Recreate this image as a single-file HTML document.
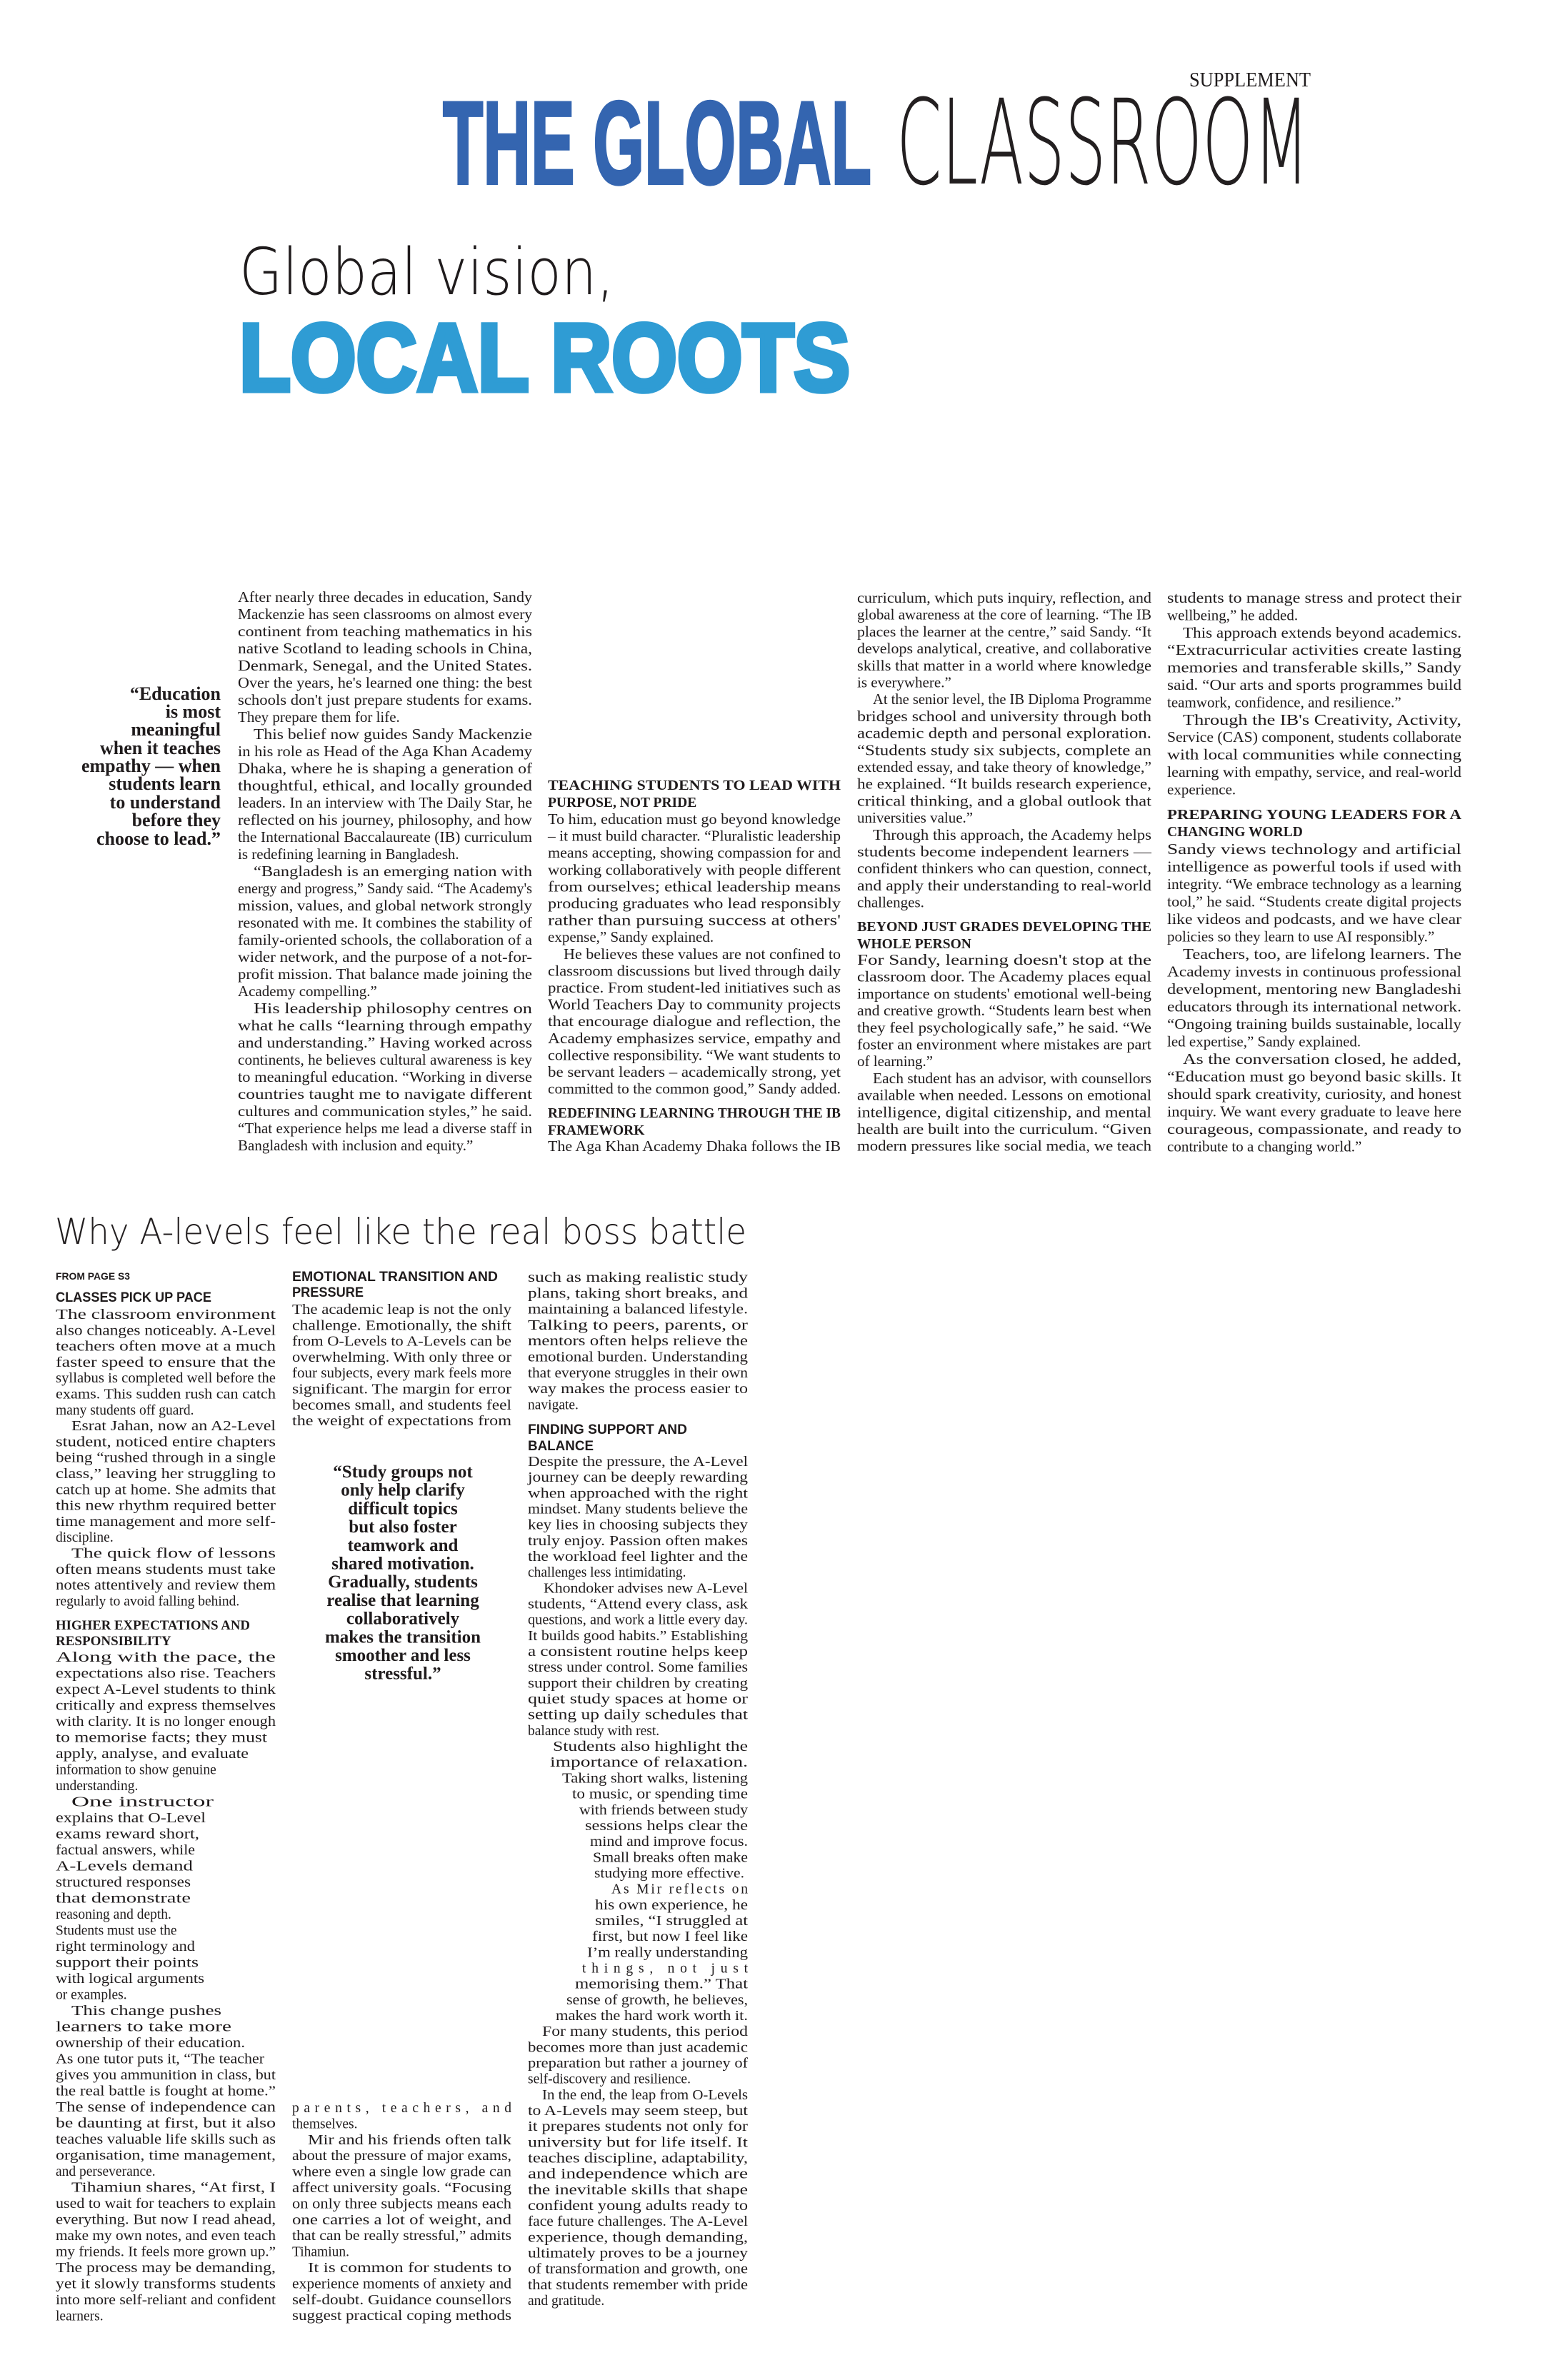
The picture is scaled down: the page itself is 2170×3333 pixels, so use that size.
<!DOCTYPE html>
<html><head><meta charset="utf-8">
<style>
html,body{margin:0;padding:0;background:#fff;}
svg{display:block;}
text{fill:#1f1b1c;font-family:"Liberation Serif",serif;}
.t{font-size:21px;}
.b{font-size:19.5px;}
.th{font-size:19.5px;font-weight:bold;}
.bh{font-size:19px;font-weight:bold;}
.bs{font-family:"Liberation Sans",sans-serif;font-size:19px;font-weight:bold;}
.q{font-size:26px;font-weight:bold;}
.q2{font-size:25px;font-weight:bold;}
</style></head>
<body>
<svg width="2170" height="3333" viewBox="0 0 2170 3333" xmlns="http://www.w3.org/2000/svg">
<rect width="2170" height="3333" fill="#fff"/>
<text x="1835" y="121" text-anchor="end" textLength="170" lengthAdjust="spacingAndGlyphs" style="font-size:28px;font-family:'Liberation Serif',serif">SUPPLEMENT</text>
<text x="620" y="257" textLength="600" lengthAdjust="spacingAndGlyphs" style="font-family:'Liberation Sans',sans-serif;font-weight:bold;font-size:165px;fill:#3465b0;stroke:#3465b0;stroke-width:4">THE GLOBAL</text>
<text x="1255" y="257" textLength="578" lengthAdjust="spacingAndGlyphs" style="font-family:'DejaVu Sans',sans-serif;font-weight:200;font-size:165px;fill:#231f20">CLASSROOM</text>
<text x="335" y="412" textLength="525" lengthAdjust="spacingAndGlyphs" style="font-family:'DejaVu Sans',sans-serif;font-weight:200;font-size:90px">Global vision,</text>
<text x="335" y="547" textLength="855" lengthAdjust="spacingAndGlyphs" style="font-family:'Liberation Sans',sans-serif;font-weight:bold;font-size:134px;fill:#2f9cd4;stroke:#2f9cd4;stroke-width:7">LOCAL ROOTS</text>

<g text-anchor="end">
<text x="309" y="980" class="q">“Education</text>
<text x="309" y="1005" class="q">is most</text>
<text x="309" y="1030" class="q">meaningful</text>
<text x="309" y="1056" class="q">when it teaches</text>
<text x="309" y="1081" class="q">empathy — when</text>
<text x="309" y="1106" class="q">students learn</text>
<text x="309" y="1132" class="q">to understand</text>
<text x="309" y="1157" class="q">before they</text>
<text x="309" y="1183" class="q">choose to lead.”</text>
</g>

<text class="t" x="333" y="843" lengthAdjust="spacingAndGlyphs" textLength="412">After nearly three decades in education, Sandy</text>
<text class="t" x="333" y="867" lengthAdjust="spacingAndGlyphs" textLength="412">Mackenzie has seen classrooms on almost every</text>
<text class="t" x="333" y="891" lengthAdjust="spacingAndGlyphs" textLength="412">continent from teaching mathematics in his</text>
<text class="t" x="333" y="915" lengthAdjust="spacingAndGlyphs" textLength="412">native Scotland to leading schools in China,</text>
<text class="t" x="333" y="939" lengthAdjust="spacingAndGlyphs" textLength="412">Denmark, Senegal, and the United States.</text>
<text class="t" x="333" y="963" lengthAdjust="spacingAndGlyphs" textLength="412">Over the years, he's learned one thing: the best</text>
<text class="t" x="333" y="987" lengthAdjust="spacingAndGlyphs" textLength="412">schools don't just prepare students for exams.</text>
<text class="t" x="333" y="1011">They prepare them for life.</text>
<text class="t" x="355" y="1035" lengthAdjust="spacingAndGlyphs" textLength="390">This belief now guides Sandy Mackenzie</text>
<text class="t" x="333" y="1059" lengthAdjust="spacingAndGlyphs" textLength="412">in his role as Head of the Aga Khan Academy</text>
<text class="t" x="333" y="1083" lengthAdjust="spacingAndGlyphs" textLength="412">Dhaka, where he is shaping a generation of</text>
<text class="t" x="333" y="1107" lengthAdjust="spacingAndGlyphs" textLength="412">thoughtful, ethical, and locally grounded</text>
<text class="t" x="333" y="1131" lengthAdjust="spacingAndGlyphs" textLength="412">leaders. In an interview with The Daily Star, he</text>
<text class="t" x="333" y="1155" lengthAdjust="spacingAndGlyphs" textLength="412">reflected on his journey, philosophy, and how</text>
<text class="t" x="333" y="1179" lengthAdjust="spacingAndGlyphs" textLength="412">the International Baccalaureate (IB) curriculum</text>
<text class="t" x="333" y="1203">is redefining learning in Bangladesh.</text>
<text class="t" x="355" y="1227" lengthAdjust="spacingAndGlyphs" textLength="390">“Bangladesh is an emerging nation with</text>
<text class="t" x="333" y="1251" lengthAdjust="spacingAndGlyphs" textLength="412">energy and progress,” Sandy said. “The Academy's</text>
<text class="t" x="333" y="1275" lengthAdjust="spacingAndGlyphs" textLength="412">mission, values, and global network strongly</text>
<text class="t" x="333" y="1299" lengthAdjust="spacingAndGlyphs" textLength="412">resonated with me. It combines the stability of</text>
<text class="t" x="333" y="1323" lengthAdjust="spacingAndGlyphs" textLength="412">family-oriented schools, the collaboration of a</text>
<text class="t" x="333" y="1347" lengthAdjust="spacingAndGlyphs" textLength="412">wider network, and the purpose of a not-for-</text>
<text class="t" x="333" y="1371" lengthAdjust="spacingAndGlyphs" textLength="412">profit mission. That balance made joining the</text>
<text class="t" x="333" y="1395">Academy compelling.”</text>
<text class="t" x="355" y="1419" lengthAdjust="spacingAndGlyphs" textLength="390">His leadership philosophy centres on</text>
<text class="t" x="333" y="1443" lengthAdjust="spacingAndGlyphs" textLength="412">what he calls “learning through empathy</text>
<text class="t" x="333" y="1467" lengthAdjust="spacingAndGlyphs" textLength="412">and understanding.” Having worked across</text>
<text class="t" x="333" y="1491" lengthAdjust="spacingAndGlyphs" textLength="412">continents, he believes cultural awareness is key</text>
<text class="t" x="333" y="1515" lengthAdjust="spacingAndGlyphs" textLength="412">to meaningful education. “Working in diverse</text>
<text class="t" x="333" y="1539" lengthAdjust="spacingAndGlyphs" textLength="412">countries taught me to navigate different</text>
<text class="t" x="333" y="1563" lengthAdjust="spacingAndGlyphs" textLength="412">cultures and communication styles,” he said.</text>
<text class="t" x="333" y="1587" lengthAdjust="spacingAndGlyphs" textLength="412">“That experience helps me lead a diverse staff in</text>
<text class="t" x="333" y="1611">Bangladesh with inclusion and equity.”</text>

<text class="th" x="767" y="1106" lengthAdjust="spacingAndGlyphs" textLength="410">TEACHING STUDENTS TO LEAD WITH</text>
<text class="th" x="767" y="1130">PURPOSE, NOT PRIDE</text>
<text class="t" x="767" y="1154" lengthAdjust="spacingAndGlyphs" textLength="410">To him, education must go beyond knowledge</text>
<text class="t" x="767" y="1177.6" lengthAdjust="spacingAndGlyphs" textLength="410">– it must build character. “Pluralistic leadership</text>
<text class="t" x="767" y="1201.2" lengthAdjust="spacingAndGlyphs" textLength="410">means accepting, showing compassion for and</text>
<text class="t" x="767" y="1224.8" lengthAdjust="spacingAndGlyphs" textLength="410">working collaboratively with people different</text>
<text class="t" x="767" y="1248.4" lengthAdjust="spacingAndGlyphs" textLength="410">from ourselves; ethical leadership means</text>
<text class="t" x="767" y="1272" lengthAdjust="spacingAndGlyphs" textLength="410">producing graduates who lead responsibly</text>
<text class="t" x="767" y="1295.6" lengthAdjust="spacingAndGlyphs" textLength="410">rather than pursuing success at others'</text>
<text class="t" x="767" y="1319.2">expense,” Sandy explained.</text>
<text class="t" x="789" y="1342.8" lengthAdjust="spacingAndGlyphs" textLength="388">He believes these values are not confined to</text>
<text class="t" x="767" y="1366.4" lengthAdjust="spacingAndGlyphs" textLength="410">classroom discussions but lived through daily</text>
<text class="t" x="767" y="1390" lengthAdjust="spacingAndGlyphs" textLength="410">practice. From student-led initiatives such as</text>
<text class="t" x="767" y="1413.6" lengthAdjust="spacingAndGlyphs" textLength="410">World Teachers Day to community projects</text>
<text class="t" x="767" y="1437.2" lengthAdjust="spacingAndGlyphs" textLength="410">that encourage dialogue and reflection, the</text>
<text class="t" x="767" y="1460.8" lengthAdjust="spacingAndGlyphs" textLength="410">Academy emphasizes service, empathy and</text>
<text class="t" x="767" y="1484.4" lengthAdjust="spacingAndGlyphs" textLength="410">collective responsibility. “We want students to</text>
<text class="t" x="767" y="1508" lengthAdjust="spacingAndGlyphs" textLength="410">be servant leaders – academically strong, yet</text>
<text class="t" x="767" y="1531.6" lengthAdjust="spacingAndGlyphs" textLength="410">committed to the common good,” Sandy added.</text>
<text class="th" x="767" y="1565" lengthAdjust="spacingAndGlyphs" textLength="410">REDEFINING LEARNING THROUGH THE IB</text>
<text class="th" x="767" y="1589">FRAMEWORK</text>
<text class="t" x="767" y="1612" lengthAdjust="spacingAndGlyphs" textLength="410">The Aga Khan Academy Dhaka follows the IB</text>

<text class="t" x="1200" y="844" lengthAdjust="spacingAndGlyphs" textLength="412">curriculum, which puts inquiry, reflection, and</text>
<text class="t" x="1200" y="867.7" lengthAdjust="spacingAndGlyphs" textLength="412">global awareness at the core of learning. “The IB</text>
<text class="t" x="1200" y="891.4" lengthAdjust="spacingAndGlyphs" textLength="412">places the learner at the centre,” said Sandy. “It</text>
<text class="t" x="1200" y="915.1" lengthAdjust="spacingAndGlyphs" textLength="412">develops analytical, creative, and collaborative</text>
<text class="t" x="1200" y="938.8" lengthAdjust="spacingAndGlyphs" textLength="412">skills that matter in a world where knowledge</text>
<text class="t" x="1200" y="962.5">is everywhere.”</text>
<text class="t" x="1222" y="986.2" lengthAdjust="spacingAndGlyphs" textLength="390">At the senior level, the IB Diploma Programme</text>
<text class="t" x="1200" y="1009.9" lengthAdjust="spacingAndGlyphs" textLength="412">bridges school and university through both</text>
<text class="t" x="1200" y="1033.6" lengthAdjust="spacingAndGlyphs" textLength="412">academic depth and personal exploration.</text>
<text class="t" x="1200" y="1057.3" lengthAdjust="spacingAndGlyphs" textLength="412">“Students study six subjects, complete an</text>
<text class="t" x="1200" y="1081" lengthAdjust="spacingAndGlyphs" textLength="412">extended essay, and take theory of knowledge,”</text>
<text class="t" x="1200" y="1104.7" lengthAdjust="spacingAndGlyphs" textLength="412">he explained. “It builds research experience,</text>
<text class="t" x="1200" y="1128.4" lengthAdjust="spacingAndGlyphs" textLength="412">critical thinking, and a global outlook that</text>
<text class="t" x="1200" y="1152.1">universities value.”</text>
<text class="t" x="1222" y="1175.8" lengthAdjust="spacingAndGlyphs" textLength="390">Through this approach, the Academy helps</text>
<text class="t" x="1200" y="1199.5" lengthAdjust="spacingAndGlyphs" textLength="412">students become independent learners —</text>
<text class="t" x="1200" y="1223.2" lengthAdjust="spacingAndGlyphs" textLength="412">confident thinkers who can question, connect,</text>
<text class="t" x="1200" y="1246.9" lengthAdjust="spacingAndGlyphs" textLength="412">and apply their understanding to real-world</text>
<text class="t" x="1200" y="1270.6">challenges.</text>
<text class="th" x="1200" y="1304" lengthAdjust="spacingAndGlyphs" textLength="412">BEYOND JUST GRADES DEVELOPING THE</text>
<text class="th" x="1200" y="1328">WHOLE PERSON</text>
<text class="t" x="1200" y="1351" lengthAdjust="spacingAndGlyphs" textLength="412">For Sandy, learning doesn't stop at the</text>
<text class="t" x="1200" y="1374.7" lengthAdjust="spacingAndGlyphs" textLength="412">classroom door. The Academy places equal</text>
<text class="t" x="1200" y="1398.4" lengthAdjust="spacingAndGlyphs" textLength="412">importance on students' emotional well-being</text>
<text class="t" x="1200" y="1422.1" lengthAdjust="spacingAndGlyphs" textLength="412">and creative growth. “Students learn best when</text>
<text class="t" x="1200" y="1445.8" lengthAdjust="spacingAndGlyphs" textLength="412">they feel psychologically safe,” he said. “We</text>
<text class="t" x="1200" y="1469.5" lengthAdjust="spacingAndGlyphs" textLength="412">foster an environment where mistakes are part</text>
<text class="t" x="1200" y="1493.2">of learning.”</text>
<text class="t" x="1222" y="1516.9" lengthAdjust="spacingAndGlyphs" textLength="390">Each student has an advisor, with counsellors</text>
<text class="t" x="1200" y="1540.6" lengthAdjust="spacingAndGlyphs" textLength="412">available when needed. Lessons on emotional</text>
<text class="t" x="1200" y="1564.3" lengthAdjust="spacingAndGlyphs" textLength="412">intelligence, digital citizenship, and mental</text>
<text class="t" x="1200" y="1588" lengthAdjust="spacingAndGlyphs" textLength="412">health are built into the curriculum. “Given</text>
<text class="t" x="1200" y="1611.7" lengthAdjust="spacingAndGlyphs" textLength="412">modern pressures like social media, we teach</text>

<text class="t" x="1634" y="844" lengthAdjust="spacingAndGlyphs" textLength="412">students to manage stress and protect their</text>
<text class="t" x="1634" y="868.4">wellbeing,” he added.</text>
<text class="t" x="1656" y="892.8" lengthAdjust="spacingAndGlyphs" textLength="390">This approach extends beyond academics.</text>
<text class="t" x="1634" y="917.2" lengthAdjust="spacingAndGlyphs" textLength="412">“Extracurricular activities create lasting</text>
<text class="t" x="1634" y="941.6" lengthAdjust="spacingAndGlyphs" textLength="412">memories and transferable skills,” Sandy</text>
<text class="t" x="1634" y="966" lengthAdjust="spacingAndGlyphs" textLength="412">said. “Our arts and sports programmes build</text>
<text class="t" x="1634" y="990.4">teamwork, confidence, and resilience.”</text>
<text class="t" x="1656" y="1014.8" lengthAdjust="spacingAndGlyphs" textLength="390">Through the IB's Creativity, Activity,</text>
<text class="t" x="1634" y="1039.2" lengthAdjust="spacingAndGlyphs" textLength="412">Service (CAS) component, students collaborate</text>
<text class="t" x="1634" y="1063.6" lengthAdjust="spacingAndGlyphs" textLength="412">with local communities  while connecting</text>
<text class="t" x="1634" y="1088" lengthAdjust="spacingAndGlyphs" textLength="412">learning with empathy, service, and real-world</text>
<text class="t" x="1634" y="1112.4">experience.</text>
<text class="th" x="1634" y="1147" lengthAdjust="spacingAndGlyphs" textLength="412">PREPARING YOUNG LEADERS FOR A</text>
<text class="th" x="1634" y="1171">CHANGING WORLD</text>
<text class="t" x="1634" y="1196" lengthAdjust="spacingAndGlyphs" textLength="412">Sandy views technology and artificial</text>
<text class="t" x="1634" y="1220.5" lengthAdjust="spacingAndGlyphs" textLength="412">intelligence as powerful tools if used with</text>
<text class="t" x="1634" y="1245" lengthAdjust="spacingAndGlyphs" textLength="412">integrity. “We embrace technology as a learning</text>
<text class="t" x="1634" y="1269.5" lengthAdjust="spacingAndGlyphs" textLength="412">tool,” he said. “Students create digital projects</text>
<text class="t" x="1634" y="1294" lengthAdjust="spacingAndGlyphs" textLength="412">like videos and podcasts, and we have clear</text>
<text class="t" x="1634" y="1318.5">policies so they learn to use AI responsibly.”</text>
<text class="t" x="1656" y="1343" lengthAdjust="spacingAndGlyphs" textLength="390">Teachers, too, are lifelong learners. The</text>
<text class="t" x="1634" y="1367.5" lengthAdjust="spacingAndGlyphs" textLength="412">Academy invests in continuous professional</text>
<text class="t" x="1634" y="1392" lengthAdjust="spacingAndGlyphs" textLength="412">development, mentoring new Bangladeshi</text>
<text class="t" x="1634" y="1416.5" lengthAdjust="spacingAndGlyphs" textLength="412">educators through its international network.</text>
<text class="t" x="1634" y="1441" lengthAdjust="spacingAndGlyphs" textLength="412">“Ongoing training builds sustainable, locally</text>
<text class="t" x="1634" y="1465.5">led expertise,” Sandy explained.</text>
<text class="t" x="1656" y="1490" lengthAdjust="spacingAndGlyphs" textLength="390">As the conversation closed, he added,</text>
<text class="t" x="1634" y="1514.5" lengthAdjust="spacingAndGlyphs" textLength="412">“Education must go beyond basic skills. It</text>
<text class="t" x="1634" y="1539" lengthAdjust="spacingAndGlyphs" textLength="412">should spark creativity, curiosity, and honest</text>
<text class="t" x="1634" y="1563.5" lengthAdjust="spacingAndGlyphs" textLength="412">inquiry. We want every graduate to leave here</text>
<text class="t" x="1634" y="1588" lengthAdjust="spacingAndGlyphs" textLength="412">courageous, compassionate, and ready to</text>
<text class="t" x="1634" y="1612.5">contribute to a changing world.”</text>

<text x="77" y="1742" textLength="968" lengthAdjust="spacingAndGlyphs" style="font-family:'DejaVu Sans',sans-serif;font-weight:200;font-size:50px;fill:#231f20">Why A-levels feel like the real boss battle</text>

<text class="bs" x="78" y="1792" textLength="104" lengthAdjust="spacingAndGlyphs" style="font-size:14px">FROM PAGE S3</text>
<text class="bs" x="78" y="1823" textLength="218" lengthAdjust="spacingAndGlyphs">CLASSES PICK UP PACE</text>
<text class="b" x="78" y="1847" lengthAdjust="spacingAndGlyphs" textLength="308">The classroom environment</text>
<text class="b" x="78" y="1869.3" lengthAdjust="spacingAndGlyphs" textLength="308">also changes noticeably. A-Level</text>
<text class="b" x="78" y="1891.6" lengthAdjust="spacingAndGlyphs" textLength="308">teachers often move at a much</text>
<text class="b" x="78" y="1913.9" lengthAdjust="spacingAndGlyphs" textLength="308">faster speed to ensure that the</text>
<text class="b" x="78" y="1936.2" lengthAdjust="spacingAndGlyphs" textLength="308">syllabus is completed well before the</text>
<text class="b" x="78" y="1958.5" lengthAdjust="spacingAndGlyphs" textLength="308">exams. This sudden rush can catch</text>
<text class="b" x="78" y="1980.8">many students off guard.</text>
<text class="b" x="100" y="2003.1" lengthAdjust="spacingAndGlyphs" textLength="286">Esrat Jahan, now an A2-Level</text>
<text class="b" x="78" y="2025.4" lengthAdjust="spacingAndGlyphs" textLength="308">student, noticed entire chapters</text>
<text class="b" x="78" y="2047.7" lengthAdjust="spacingAndGlyphs" textLength="308">being “rushed through in a single</text>
<text class="b" x="78" y="2070" lengthAdjust="spacingAndGlyphs" textLength="308">class,” leaving her struggling to</text>
<text class="b" x="78" y="2092.3" lengthAdjust="spacingAndGlyphs" textLength="308">catch up at home. She admits that</text>
<text class="b" x="78" y="2114.6" lengthAdjust="spacingAndGlyphs" textLength="308">this new rhythm required better</text>
<text class="b" x="78" y="2136.9" lengthAdjust="spacingAndGlyphs" textLength="308">time management and more self-</text>
<text class="b" x="78" y="2159.2">discipline.</text>
<text class="b" x="100" y="2181.5" lengthAdjust="spacingAndGlyphs" textLength="286">The quick flow of lessons</text>
<text class="b" x="78" y="2203.8" lengthAdjust="spacingAndGlyphs" textLength="308">often means students must take</text>
<text class="b" x="78" y="2226.1" lengthAdjust="spacingAndGlyphs" textLength="308">notes attentively and review them</text>
<text class="b" x="78" y="2248.4">regularly to avoid falling behind.</text>
<text class="bh" x="78" y="2282" textLength="272" lengthAdjust="spacingAndGlyphs">HIGHER EXPECTATIONS AND</text>
<text class="bh" x="78" y="2304">RESPONSIBILITY</text>
<text class="b" x="78" y="2327" lengthAdjust="spacingAndGlyphs" textLength="308">Along with the pace, the</text>
<text class="b" x="78" y="2349.5" lengthAdjust="spacingAndGlyphs" textLength="308">expectations also rise. Teachers</text>
<text class="b" x="78" y="2372" lengthAdjust="spacingAndGlyphs" textLength="308">expect A-Level students to think</text>
<text class="b" x="78" y="2394.5" lengthAdjust="spacingAndGlyphs" textLength="308">critically and express themselves</text>
<text class="b" x="78" y="2417" lengthAdjust="spacingAndGlyphs" textLength="308">with clarity. It is no longer enough</text>
<text class="b" x="78" y="2439.5" lengthAdjust="spacingAndGlyphs" textLength="296">to memorise facts; they must</text>
<text class="b" x="78" y="2462" lengthAdjust="spacingAndGlyphs" textLength="270">apply, analyse, and evaluate</text>
<text class="b" x="78" y="2484.5">information to show genuine</text>
<text class="b" x="78" y="2507">understanding.</text>
<text class="b" x="100" y="2529.5" lengthAdjust="spacingAndGlyphs" textLength="199">One instructor</text>
<text class="b" x="78" y="2552" lengthAdjust="spacingAndGlyphs" textLength="210">explains that O-Level</text>
<text class="b" x="78" y="2574.5" lengthAdjust="spacingAndGlyphs" textLength="201">exams reward short,</text>
<text class="b" x="78" y="2597" lengthAdjust="spacingAndGlyphs" textLength="195">factual answers, while</text>
<text class="b" x="78" y="2619.5" lengthAdjust="spacingAndGlyphs" textLength="192">A-Levels demand</text>
<text class="b" x="78" y="2642" lengthAdjust="spacingAndGlyphs" textLength="189">structured responses</text>
<text class="b" x="78" y="2664.5" lengthAdjust="spacingAndGlyphs" textLength="189">that demonstrate</text>
<text class="b" x="78" y="2687">reasoning and depth.</text>
<text class="b" x="78" y="2709.5">Students must use the</text>
<text class="b" x="78" y="2732" lengthAdjust="spacingAndGlyphs" textLength="195">right terminology and</text>
<text class="b" x="78" y="2754.5" lengthAdjust="spacingAndGlyphs" textLength="200">support their points</text>
<text class="b" x="78" y="2777" lengthAdjust="spacingAndGlyphs" textLength="208">with logical arguments</text>
<text class="b" x="78" y="2799.5">or examples.</text>
<text class="b" x="100" y="2822" lengthAdjust="spacingAndGlyphs" textLength="210">This change pushes</text>
<text class="b" x="78" y="2844.5" lengthAdjust="spacingAndGlyphs" textLength="246">learners to take more</text>
<text class="b" x="78" y="2867" lengthAdjust="spacingAndGlyphs" textLength="265">ownership of their education.</text>
<text class="b" x="78" y="2889.5" lengthAdjust="spacingAndGlyphs" textLength="292">As one tutor puts it, “The teacher</text>
<text class="b" x="78" y="2912" lengthAdjust="spacingAndGlyphs" textLength="308">gives you ammunition in class, but</text>
<text class="b" x="78" y="2934.5" lengthAdjust="spacingAndGlyphs" textLength="308">the real battle is fought at home.”</text>
<text class="b" x="78" y="2957" lengthAdjust="spacingAndGlyphs" textLength="308">The sense of independence can</text>
<text class="b" x="78" y="2979.5" lengthAdjust="spacingAndGlyphs" textLength="308">be daunting at first, but it also</text>
<text class="b" x="78" y="3002" lengthAdjust="spacingAndGlyphs" textLength="308">teaches valuable life skills such as</text>
<text class="b" x="78" y="3024.5" lengthAdjust="spacingAndGlyphs" textLength="308">organisation, time management,</text>
<text class="b" x="78" y="3047">and perseverance.</text>
<text class="b" x="100" y="3069.5" lengthAdjust="spacingAndGlyphs" textLength="286">Tihamiun shares, “At first, I</text>
<text class="b" x="78" y="3092" lengthAdjust="spacingAndGlyphs" textLength="308">used to wait for teachers to explain</text>
<text class="b" x="78" y="3114.5" lengthAdjust="spacingAndGlyphs" textLength="308">everything. But now I read ahead,</text>
<text class="b" x="78" y="3137" lengthAdjust="spacingAndGlyphs" textLength="308">make my own notes, and even teach</text>
<text class="b" x="78" y="3159.5" lengthAdjust="spacingAndGlyphs" textLength="308">my friends. It feels more grown up.”</text>
<text class="b" x="78" y="3182" lengthAdjust="spacingAndGlyphs" textLength="308">The process may be demanding,</text>
<text class="b" x="78" y="3204.5" lengthAdjust="spacingAndGlyphs" textLength="308">yet it slowly transforms students</text>
<text class="b" x="78" y="3227" lengthAdjust="spacingAndGlyphs" textLength="308">into more self-reliant and confident</text>
<text class="b" x="78" y="3249.5">learners.</text>

<text class="bs" x="409" y="1794" textLength="288" lengthAdjust="spacingAndGlyphs">EMOTIONAL TRANSITION AND</text>
<text class="bs" x="409" y="1816" textLength="100" lengthAdjust="spacingAndGlyphs">PRESSURE</text>
<text class="b" x="409" y="1840" lengthAdjust="spacingAndGlyphs" textLength="307">The academic leap is not the only</text>
<text class="b" x="409" y="1862.3" lengthAdjust="spacingAndGlyphs" textLength="307">challenge. Emotionally, the shift</text>
<text class="b" x="409" y="1884.6" lengthAdjust="spacingAndGlyphs" textLength="307">from O-Levels to A-Levels can be</text>
<text class="b" x="409" y="1906.9" lengthAdjust="spacingAndGlyphs" textLength="307">overwhelming. With only three or</text>
<text class="b" x="409" y="1929.2" lengthAdjust="spacingAndGlyphs" textLength="307">four subjects, every mark feels more</text>
<text class="b" x="409" y="1951.5" lengthAdjust="spacingAndGlyphs" textLength="307">significant. The margin for error</text>
<text class="b" x="409" y="1973.8" lengthAdjust="spacingAndGlyphs" textLength="307">becomes small, and students feel</text>
<text class="b" x="409" y="1996.1" lengthAdjust="spacingAndGlyphs" textLength="307">the weight of expectations from</text>
<g text-anchor="middle">
<text class="q2" x="564" y="2069">“Study groups not</text>
<text class="q2" x="564" y="2094.7">only help clarify</text>
<text class="q2" x="564" y="2120.4">difficult topics</text>
<text class="q2" x="564" y="2146.1">but also foster</text>
<text class="q2" x="564" y="2171.8">teamwork and</text>
<text class="q2" x="564" y="2197.5">shared motivation.</text>
<text class="q2" x="564" y="2223.2">Gradually, students</text>
<text class="q2" x="564" y="2248.9">realise that learning</text>
<text class="q2" x="564" y="2274.6">collaboratively</text>
<text class="q2" x="564" y="2300.3">makes the transition</text>
<text class="q2" x="564" y="2326">smoother and less</text>
<text class="q2" x="564" y="2351.7">stressful.”</text>
</g>
<text class="b" x="409" y="2958" textLength="307">parents,             teachers, and</text>
<text class="b" x="409" y="2980.4">themselves.</text>
<text class="b" x="431" y="3002.8" lengthAdjust="spacingAndGlyphs" textLength="285">Mir and his friends often talk</text>
<text class="b" x="409" y="3025.2" lengthAdjust="spacingAndGlyphs" textLength="307">about the pressure of major exams,</text>
<text class="b" x="409" y="3047.6" lengthAdjust="spacingAndGlyphs" textLength="307">where even a single low grade can</text>
<text class="b" x="409" y="3070" lengthAdjust="spacingAndGlyphs" textLength="307">affect university goals. “Focusing</text>
<text class="b" x="409" y="3092.4" lengthAdjust="spacingAndGlyphs" textLength="307">on only three subjects means each</text>
<text class="b" x="409" y="3114.8" lengthAdjust="spacingAndGlyphs" textLength="307">one carries a lot of weight, and</text>
<text class="b" x="409" y="3137.2" lengthAdjust="spacingAndGlyphs" textLength="307">that can be really stressful,” admits</text>
<text class="b" x="409" y="3159.6">Tihamiun.</text>
<text class="b" x="431" y="3182" lengthAdjust="spacingAndGlyphs" textLength="285">It is common for students to</text>
<text class="b" x="409" y="3204.4" lengthAdjust="spacingAndGlyphs" textLength="307">experience moments of anxiety and</text>
<text class="b" x="409" y="3226.8" lengthAdjust="spacingAndGlyphs" textLength="307">self-doubt. Guidance counsellors</text>
<text class="b" x="409" y="3249.2" lengthAdjust="spacingAndGlyphs" textLength="307">suggest practical coping methods</text>

<text class="b" x="739" y="1795" lengthAdjust="spacingAndGlyphs" textLength="308">such as making realistic study</text>
<text class="b" x="739" y="1817.3" lengthAdjust="spacingAndGlyphs" textLength="308">plans, taking short breaks, and</text>
<text class="b" x="739" y="1839.6" lengthAdjust="spacingAndGlyphs" textLength="308">maintaining a balanced lifestyle.</text>
<text class="b" x="739" y="1861.9" lengthAdjust="spacingAndGlyphs" textLength="308">Talking to peers, parents, or</text>
<text class="b" x="739" y="1884.2" lengthAdjust="spacingAndGlyphs" textLength="308">mentors often helps relieve the</text>
<text class="b" x="739" y="1906.5" lengthAdjust="spacingAndGlyphs" textLength="308">emotional burden. Understanding</text>
<text class="b" x="739" y="1928.8" lengthAdjust="spacingAndGlyphs" textLength="308">that everyone struggles in their own</text>
<text class="b" x="739" y="1951.1" lengthAdjust="spacingAndGlyphs" textLength="308">way makes the process easier to</text>
<text class="b" x="739" y="1973.4">navigate.</text>
<text class="bs" x="739" y="2008" textLength="223" lengthAdjust="spacingAndGlyphs">FINDING SUPPORT AND</text>
<text class="bs" x="739" y="2031" textLength="92" lengthAdjust="spacingAndGlyphs">BALANCE</text>
<text class="b" x="739" y="2053" lengthAdjust="spacingAndGlyphs" textLength="308">Despite the pressure, the A-Level</text>
<text class="b" x="739" y="2075.2" lengthAdjust="spacingAndGlyphs" textLength="308">journey can be deeply rewarding</text>
<text class="b" x="739" y="2097.3" lengthAdjust="spacingAndGlyphs" textLength="308">when approached with the right</text>
<text class="b" x="739" y="2119.5" lengthAdjust="spacingAndGlyphs" textLength="308">mindset. Many students believe the</text>
<text class="b" x="739" y="2141.7" lengthAdjust="spacingAndGlyphs" textLength="308">key lies in choosing subjects they</text>
<text class="b" x="739" y="2163.9" lengthAdjust="spacingAndGlyphs" textLength="308">truly enjoy. Passion often makes</text>
<text class="b" x="739" y="2186" lengthAdjust="spacingAndGlyphs" textLength="308">the workload feel lighter and the</text>
<text class="b" x="739" y="2208.2">challenges less intimidating.</text>
<text class="b" x="761" y="2230.4" lengthAdjust="spacingAndGlyphs" textLength="286">Khondoker advises new A-Level</text>
<text class="b" x="739" y="2252.5" lengthAdjust="spacingAndGlyphs" textLength="308">students, “Attend every class, ask</text>
<text class="b" x="739" y="2274.7" lengthAdjust="spacingAndGlyphs" textLength="308">questions, and work a little every day.</text>
<text class="b" x="739" y="2296.9" lengthAdjust="spacingAndGlyphs" textLength="308">It builds good habits.” Establishing</text>
<text class="b" x="739" y="2319" lengthAdjust="spacingAndGlyphs" textLength="308">a consistent routine helps keep</text>
<text class="b" x="739" y="2341.2" lengthAdjust="spacingAndGlyphs" textLength="308">stress under control. Some families</text>
<text class="b" x="739" y="2363.4" lengthAdjust="spacingAndGlyphs" textLength="308">support their children by creating</text>
<text class="b" x="739" y="2385.6" lengthAdjust="spacingAndGlyphs" textLength="308">quiet study spaces at home or</text>
<text class="b" x="739" y="2407.7" lengthAdjust="spacingAndGlyphs" textLength="308">setting up daily schedules that</text>
<text class="b" x="739" y="2429.9">balance study with rest.</text>
<text class="b" x="774" y="2452.1" lengthAdjust="spacingAndGlyphs" textLength="273">Students also highlight the</text>
<text class="b" x="770" y="2474.2" lengthAdjust="spacingAndGlyphs" textLength="277">importance of relaxation.</text>
<text class="b" x="787" y="2496.4" lengthAdjust="spacingAndGlyphs" textLength="260">Taking short walks, listening</text>
<text class="b" x="801" y="2518.6" lengthAdjust="spacingAndGlyphs" textLength="246">to music, or spending time</text>
<text class="b" x="811" y="2540.8" lengthAdjust="spacingAndGlyphs" textLength="236">with friends between study</text>
<text class="b" x="819" y="2562.9" lengthAdjust="spacingAndGlyphs" textLength="228">sessions helps clear the</text>
<text class="b" x="826" y="2585.1" lengthAdjust="spacingAndGlyphs" textLength="221">mind and improve focus.</text>
<text class="b" x="830" y="2607.3" lengthAdjust="spacingAndGlyphs" textLength="217">Small breaks often make</text>
<text class="b" x="832" y="2629.4" lengthAdjust="spacingAndGlyphs" textLength="210">studying more effective.</text>
<text class="b" x="856" y="2651.6" textLength="191">As Mir reflects on</text>
<text class="b" x="833" y="2673.8" lengthAdjust="spacingAndGlyphs" textLength="214">his own experience, he</text>
<text class="b" x="833" y="2696" lengthAdjust="spacingAndGlyphs" textLength="214">smiles, “I struggled at</text>
<text class="b" x="829" y="2718.1" lengthAdjust="spacingAndGlyphs" textLength="218">first, but now I feel like</text>
<text class="b" x="822" y="2740.3" lengthAdjust="spacingAndGlyphs" textLength="225">I’m really understanding</text>
<text class="b" x="815" y="2762.5" textLength="232">things,          not          just</text>
<text class="b" x="805" y="2784.6" lengthAdjust="spacingAndGlyphs" textLength="242">memorising them.” That</text>
<text class="b" x="793" y="2806.8" lengthAdjust="spacingAndGlyphs" textLength="254">sense of growth, he believes,</text>
<text class="b" x="778" y="2829" lengthAdjust="spacingAndGlyphs" textLength="269">makes the hard work worth it.</text>
<text class="b" x="759" y="2851.1" lengthAdjust="spacingAndGlyphs" textLength="288">For many students, this period</text>
<text class="b" x="739" y="2873.3" lengthAdjust="spacingAndGlyphs" textLength="308">becomes more than just academic</text>
<text class="b" x="739" y="2895.5" lengthAdjust="spacingAndGlyphs" textLength="308">preparation but rather a journey of</text>
<text class="b" x="739" y="2917.7">self-discovery and resilience.</text>
<text class="b" x="759" y="2939.8" lengthAdjust="spacingAndGlyphs" textLength="288">In the end, the leap from O-Levels</text>
<text class="b" x="739" y="2962" lengthAdjust="spacingAndGlyphs" textLength="308">to A-Levels may seem steep, but</text>
<text class="b" x="739" y="2984.2" lengthAdjust="spacingAndGlyphs" textLength="308">it prepares students not only for</text>
<text class="b" x="739" y="3006.3" lengthAdjust="spacingAndGlyphs" textLength="308">university but for life itself. It</text>
<text class="b" x="739" y="3028.5" lengthAdjust="spacingAndGlyphs" textLength="308">teaches discipline, adaptability,</text>
<text class="b" x="739" y="3050.7" lengthAdjust="spacingAndGlyphs" textLength="308">and independence which are</text>
<text class="b" x="739" y="3072.9" lengthAdjust="spacingAndGlyphs" textLength="308">the inevitable skills that shape</text>
<text class="b" x="739" y="3095" lengthAdjust="spacingAndGlyphs" textLength="308">confident young adults ready to</text>
<text class="b" x="739" y="3117.2" lengthAdjust="spacingAndGlyphs" textLength="308">face future challenges. The A-Level</text>
<text class="b" x="739" y="3139.4" lengthAdjust="spacingAndGlyphs" textLength="308">experience, though demanding,</text>
<text class="b" x="739" y="3161.5" lengthAdjust="spacingAndGlyphs" textLength="308">ultimately proves to be a journey</text>
<text class="b" x="739" y="3183.7" lengthAdjust="spacingAndGlyphs" textLength="308">of transformation and growth, one</text>
<text class="b" x="739" y="3205.9" lengthAdjust="spacingAndGlyphs" textLength="308">that students remember with pride</text>
<text class="b" x="739" y="3228">and gratitude.</text>
</svg>
</body></html>
